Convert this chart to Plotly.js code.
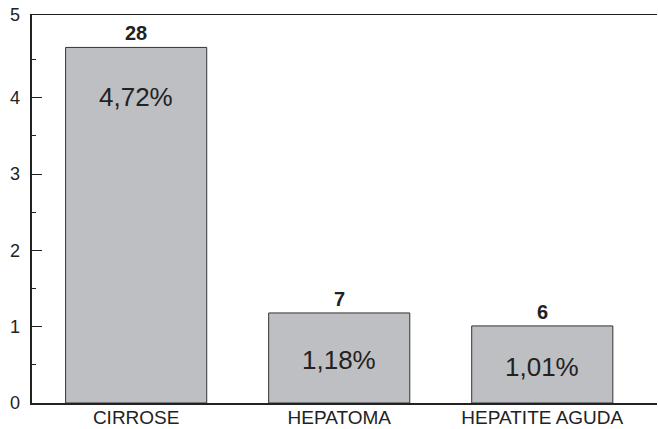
<!DOCTYPE html>
<html>
<head>
<meta charset="utf-8">
<script src="https://cdn.plot.ly/plotly-3.0.1.min.js"></script>
<style>html,body{margin:0;padding:0;background:#fff;}#chart{width:658px;height:429px;}</style>
</head>
<body>
<div id="chart"></div>
<script>
const categories = ["CIRROSE", "HEPATOMA", "HEPATITE AGUDA"];
const percentValues = [4.66, 1.18, 1.01];
const percentLabels = ["4,72%", "1,18%", "1,01%"];
const counts = [28, 7, 6];
const yTickVals = [0, 1, 2, 3, 4, 5.085];
const yTickText = ["0", "1", "2", "3", "4", "5"];
const yMinorTicks = [0.5, 1.5, 2.5, 3.5, 4.5];

const FONT = "'Liberation Sans', Arial, Helvetica, sans-serif";
const INK = "#222222";

const trace = {
  type: "bar",
  x: categories,
  y: percentValues,
  width: 0.695,
  marker: { color: "#bebfc3", line: { color: "#333333", width: 1 } },
  hoverinfo: "skip"
};

const annotations = [];
categories.forEach((c, i) => {
  const v = percentValues[i];
  annotations.push({
    x: c, y: v, xref: "x", yref: "y",
    text: "<b>" + counts[i] + "</b>",
    showarrow: false, yanchor: "bottom", yshift: 1,
    font: { family: FONT, size: 20, color: INK }
  });
  annotations.push({
    x: c, y: v > 2 ? v - 0.65 : v / 2 - 0.03, xref: "x", yref: "y",
    text: percentLabels[i],
    showarrow: false, yanchor: "middle",
    font: { family: FONT, size: 26, color: INK }
  });
});

const layout = {
  width: 658, height: 429,
  margin: { l: 32, r: 1, t: 15, b: 26, pad: 0 },
  paper_bgcolor: "#ffffff", plot_bgcolor: "#ffffff",
  showlegend: false,
  font: { family: FONT, color: INK },
  xaxis: {
    type: "category",
    range: [-0.513, 2.565],
    showline: true, linecolor: INK, linewidth: 1.5, mirror: true,
    ticks: "", showgrid: false, zeroline: false,
    ticklabelstandoff: -3,
    tickfont: { family: FONT, size: 19, color: INK }
  },
  yaxis: {
    range: [0, 5.085],
    tickmode: "array", tickvals: yTickVals, ticktext: yTickText,
    ticks: "inside", ticklen: 10, tickwidth: 1, tickcolor: INK,
    minor: { tickmode: "array", tickvals: yMinorTicks, ticks: "inside", ticklen: 4, tickwidth: 1, tickcolor: INK, showgrid: false },
    showline: true, linecolor: INK, linewidth: 2.5,
    showgrid: false, zeroline: false,
    ticklabelstandoff: 6,
    tickfont: { family: FONT, size: 18, color: INK }
  },
  annotations: annotations
};

Plotly.newPlot("chart", [trace], layout, { staticPlot: true, displayModeBar: false });
</script>
</body>
</html>
